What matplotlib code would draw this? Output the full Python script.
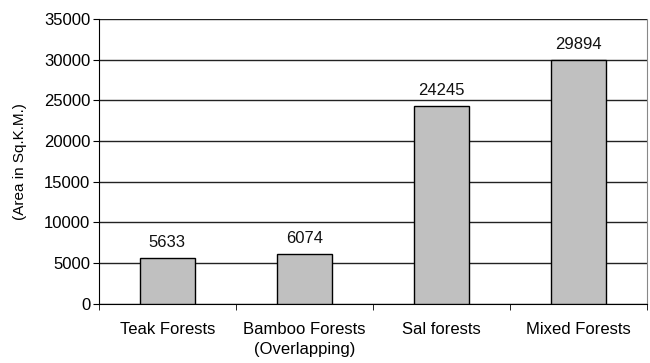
import matplotlib
matplotlib.use("Agg")
import matplotlib.pyplot as plt
import numpy as np

categories = ["Teak Forests", "Bamboo Forests\n(Overlapping)", "Sal forests", "Mixed Forests"]
areas = [5633, 6074, 24245, 29894]
yticks = [0, 5000, 10000, 15000, 20000, 25000, 30000, 35000]

plt.rcParams["font.family"] = ["Liberation Sans", "DejaVu Sans"]

fig = plt.figure(figsize=(6.5, 3.63), dpi=100)
ax = fig.add_axes([0.152, 0.163, 0.843, 0.785])

x = np.arange(len(categories))
ax.bar(x, areas, width=0.4, color="#c0c0c0", edgecolor="black", linewidth=1.0, zorder=3)
for xi, v in zip(x, areas):
    ax.annotate(str(v), (xi, v), xytext=(0, 6), textcoords="offset points",
                ha="center", va="bottom", fontsize=12, color="#111111")

ax.set_xlim(-0.5, len(categories) - 0.5)
ax.set_ylim(0, 35000)
ax.set_yticks(yticks)
ax.set_yticklabels([str(t) for t in yticks], fontsize=12)
ax.yaxis.grid(True, color="#222222", linewidth=1.0, zorder=0)

ax.set_xticks(x)
ax.set_xticklabels(categories, fontsize=12, linespacing=1.45, va="top")
ax.tick_params(axis="x", length=0, pad=13)
ax.set_xticks(np.arange(len(categories) + 1) - 0.5, minor=True)
ax.tick_params(axis="x", which="minor", length=4, direction="out", color="black")
ax.tick_params(axis="y", length=4, direction="out", pad=2)

ax.set_ylabel("(Area in Sq.K.M.)", fontsize=11, labelpad=12)
ax.spines["top"].set_visible(False)
ax.spines["right"].set_color("#888888")
ax.spines["left"].set_color("black")
ax.spines["bottom"].set_color("black")

fig.savefig("out.png", dpi=100)
